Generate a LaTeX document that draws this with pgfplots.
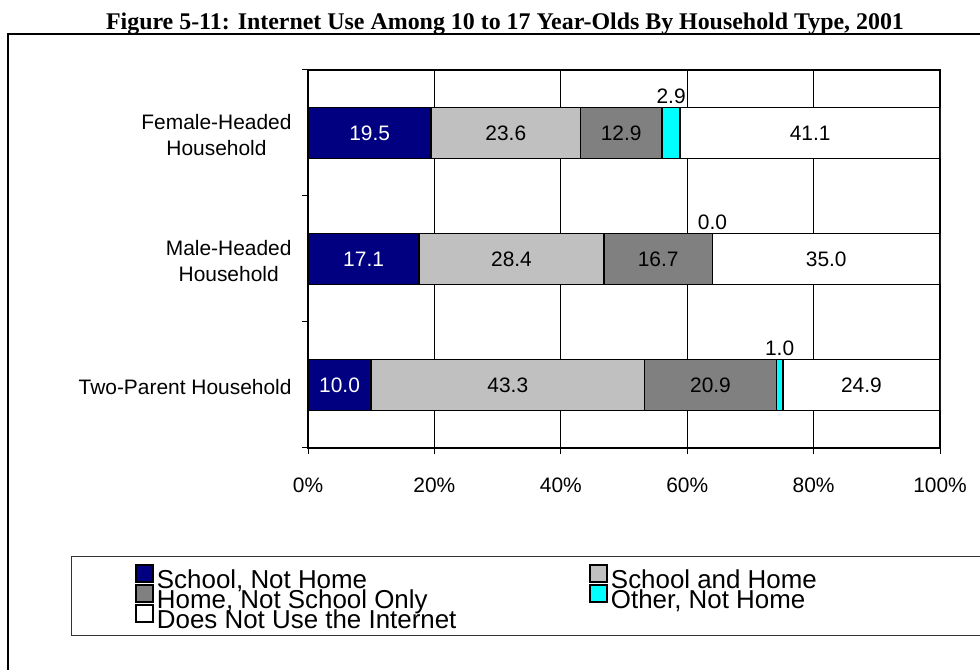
\documentclass[border=0pt]{standalone}
\usepackage{pgfplots}
\pgfplotsset{compat=1.18}
\usepackage{pgfplotstable}
\usepackage{fontspec}
\setmainfont{Liberation Sans}
\newfontfamily\titlefont{Liberation Serif}
\definecolor{navyc}{HTML}{000080}
\definecolor{silverc}{HTML}{C0C0C0}
\definecolor{grayc}{HTML}{808080}
\definecolor{cyanc}{HTML}{00FFFF}

% raw survey values (percent); rows: 0 Two-Parent, 1 Male-Headed, 2 Female-Headed
\pgfplotstableread{
cat a b c d e
0 10.0 43.3 20.9 1.0 24.9
1 17.1 28.4 16.7 0.0 35.0
2 19.5 23.6 12.9 2.9 41.1
}\data

\newcommand{\tot}{(\thisrow{a}+\thisrow{b}+\thisrow{c}+\thisrow{d}+\thisrow{e})}

\pgfplotsset{
  sq/.style={legend image code/.code={%
    \draw[##1, line width=1.5bp, overlay] (0bp,2bp) rectangle (17bp,19bp);
    \path[draw=none, fill=none] (0bp,0bp) -- (17bp,0bp);}},
  barst/.style={draw=black, line width=1.6bp, sq},
}

\begin{document}
\begin{tikzpicture}[x=1bp,y=1bp]
\useasboundingbox (0,0) rectangle (980,670);
% outer frame (open to the right and bottom, as cropped)
\draw[line width=2bp] (8,-10) -- (8,636) -- (1000,636);
% title
\node[font=\titlefont\bfseries\fontsize{24}{28}\selectfont, anchor=base] at (505,640)
  {Figure 5-11: Internet Use Among 10 to 17 Year-Olds By Household Type, 2001};
% legend box
\draw[line width=1bp, black!80] (1000,113) -- (71,113) -- (71,34) -- (1000,34);

\begin{axis}[
  at={(308bp,222bp)}, anchor=south west, scale only axis,
  width=632bp, height=378bp,
  xmin=0, xmax=100, ymin=-0.5, ymax=2.5,
  xbar stacked, bar width=51bp,
  axis line style={line width=1.6bp},
  xtick={0,20,40,60,80,100},
  xticklabels={0\%,20\%,40\%,60\%,80\%,100\%},
  xmajorgrids, major grid style={line width=0.9bp, black},
  ytick={-0.5,0.5,1.5,2.5}, yticklabels={},
  tick align=outside, major tick length=6bp,
  tick style={line width=1bp, black},
  xtick pos=bottom, ytick pos=left,
  extra y ticks={0,1,2},
  extra y tick labels={Two-Parent Household,{Male-Headed\\Household},{Female-Headed\\Household}},
  extra y tick style={major tick length=0pt, yticklabel style={align=center, xshift=-13bp, yshift=-2bp}},
  ticklabel style={font=\fontsize{21}{27}\selectfont},
  xticklabel style={yshift=-20bp},
  legend columns=2,
  legend cell align=left,
  legend style={draw=none, fill=none, inner sep=0pt, outer sep=0pt,
    at={(rel axis cs:-0.2722,-0.3333)}, anchor=north west,
    row sep=0pt, column sep=0pt,
    font=\fontsize{26}{20}\selectfont,
    nodes={inner xsep=4bp, inner ysep=0pt, text height=15bp, text depth=5bp}},
]
\addplot[barst, fill=navyc] table[y=cat, x expr={\thisrow{a}*100/\tot}] {\data};
\addlegendentry{\makebox[429bp][l]{School, Not Home}}
\addplot[barst, fill=silverc] table[y=cat, x expr={\thisrow{b}*100/\tot}] {\data};
\addlegendentry{School and Home}
\addplot[barst, fill=grayc] table[y=cat, x expr={\thisrow{c}*100/\tot}] {\data};
\addlegendentry{\makebox[429bp][l]{Home, Not School Only}}
\addplot[barst, fill=cyanc] table[y=cat, x expr={\thisrow{d}*100/\tot}] {\data};
\addlegendentry{Other, Not Home}
\addplot[barst, fill=white] table[y=cat, x expr={\thisrow{e}*100/\tot}] {\data};
\addlegendentry{\makebox[429bp][l]{Does Not Use the Internet}}
\end{axis}

% data labels
\begin{axis}[
  at={(308bp,222bp)}, anchor=south west, scale only axis,
  width=632bp, height=378bp,
  xmin=0, xmax=100, ymin=-0.5, ymax=2.5,
  hide axis, clip=false,
  point meta=explicit symbolic,
  every node near coord/.append style={font=\fontsize{21}{26}\selectfont, anchor=center, inner sep=0pt},
]
\addplot[draw=none, nodes near coords, every node near coord/.append style={text=white}]
  table[y=cat, x expr={(\thisrow{a}/2)*100/\tot}, meta=a] {\data};
\addplot[draw=none, nodes near coords]
  table[y=cat, x expr={(\thisrow{a}+\thisrow{b}/2)*100/\tot}, meta=b] {\data};
\addplot[draw=none, nodes near coords]
  table[y=cat, x expr={(\thisrow{a}+\thisrow{b}+\thisrow{c}/2)*100/\tot}, meta=c] {\data};
\addplot[draw=none, nodes near coords, every node near coord/.append style={anchor=base, yshift=29bp}]
  table[y=cat, x expr={(\thisrow{a}+\thisrow{b}+\thisrow{c}+\thisrow{d}/2)*100/\tot}, meta=d] {\data};
\addplot[draw=none, nodes near coords]
  table[y=cat, x expr={(\thisrow{a}+\thisrow{b}+\thisrow{c}+\thisrow{d}+\thisrow{e}/2)*100/\tot}, meta=e] {\data};
\end{axis}
\end{tikzpicture}
\end{document}
